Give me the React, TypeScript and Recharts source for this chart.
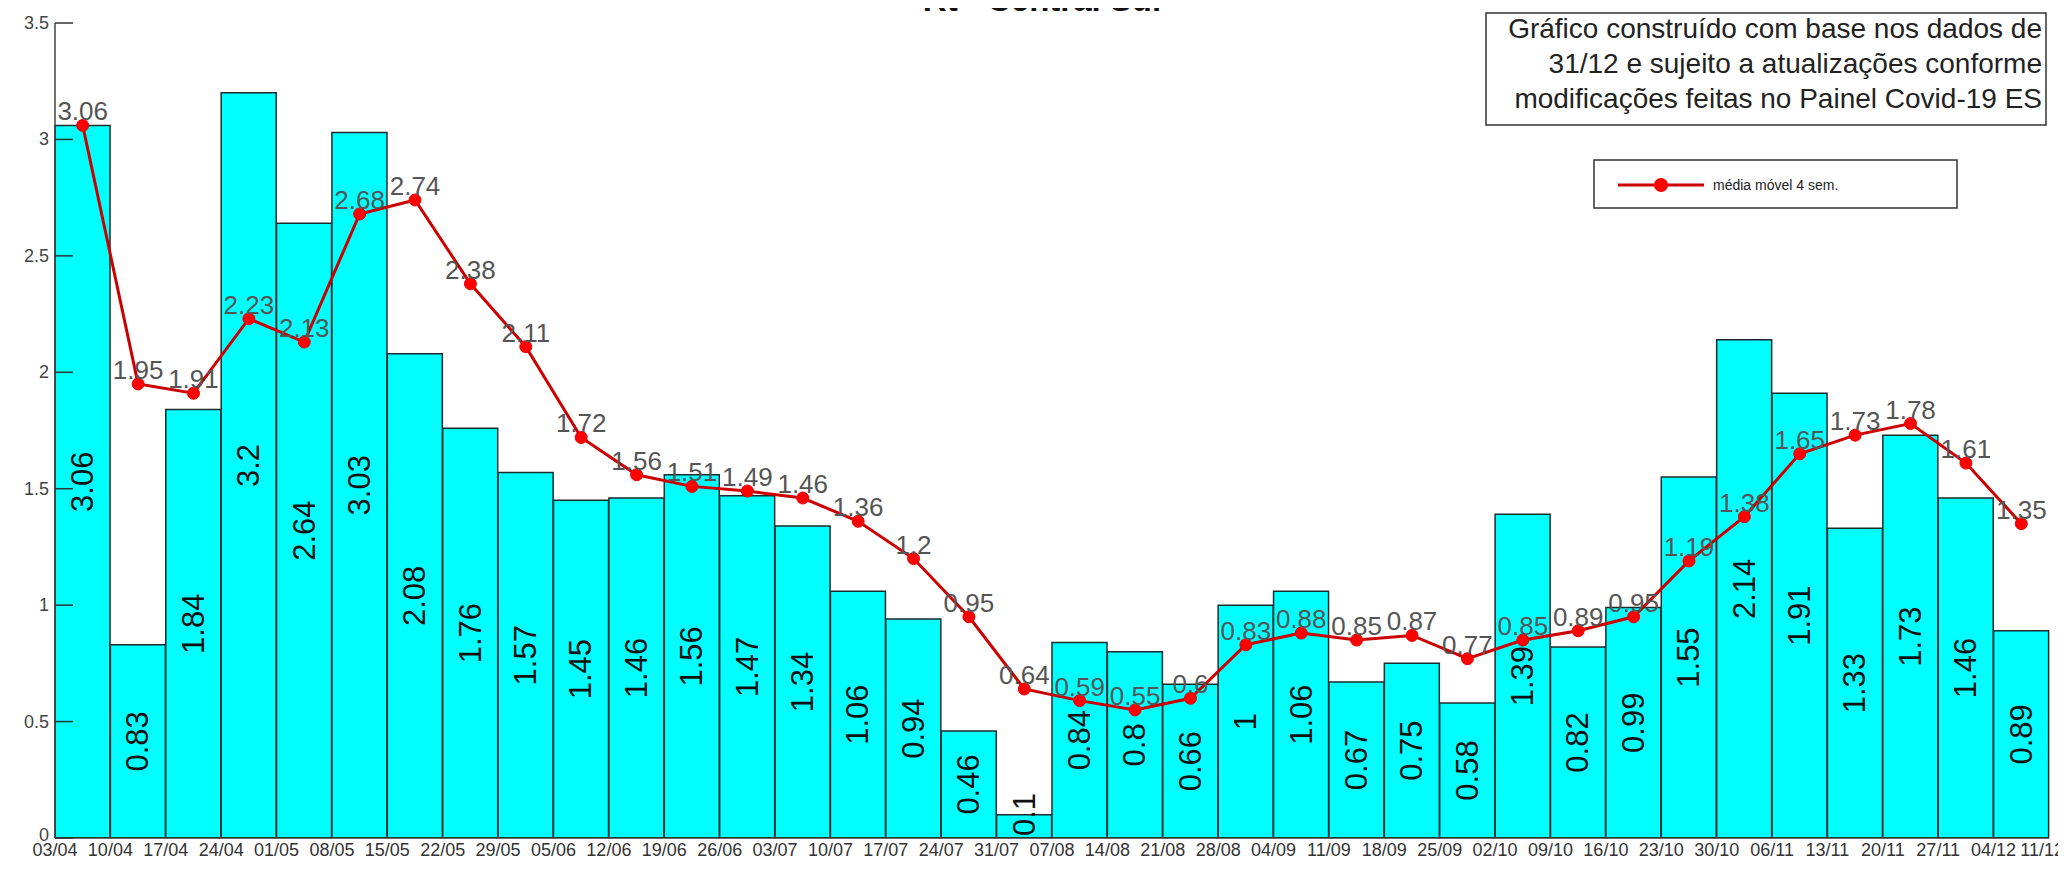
import React from "react";
import {
  ComposedChart,
  Bar,
  Line,
  XAxis,
  YAxis,
  LabelList,
} from "recharts";

const weeks = [
  "03/04", "10/04", "17/04", "24/04", "01/05", "08/05", "15/05", "22/05", "29/05",
  "05/06", "12/06", "19/06", "26/06", "03/07", "10/07", "17/07", "24/07", "31/07",
  "07/08", "14/08", "21/08", "28/08", "04/09", "11/09", "18/09", "25/09", "02/10",
  "09/10", "16/10", "23/10", "30/10", "06/11", "13/11", "20/11", "27/11", "04/12",
];

const tickLabels = [...weeks, "11/12"];

const rtWeekly = [
  3.06, 0.83, 1.84, 3.2, 2.64, 3.03, 2.08, 1.76, 1.57, 1.45, 1.46, 1.56, 1.47, 1.34,
  1.06, 0.94, 0.46, 0.1, 0.84, 0.8, 0.66, 1, 1.06, 0.67, 0.75, 0.58, 1.39, 0.82,
  0.99, 1.55, 2.14, 1.91, 1.33, 1.73, 1.46, 0.89,
];

const movingAvg = [
  3.06, 1.95, 1.91, 2.23, 2.13, 2.68, 2.74, 2.38, 2.11, 1.72, 1.56, 1.51, 1.49, 1.46,
  1.36, 1.2, 0.95, 0.64, 0.59, 0.55, 0.6, 0.83, 0.88, 0.85, 0.87, 0.77, 0.85, 0.89,
  0.95, 1.19, 1.38, 1.65, 1.73, 1.78, 1.61, 1.35,
];

const yTicks = [0, 0.5, 1, 1.5, 2, 2.5, 3, 3.5];

const rows = weeks.map((w, i) => ({
  week: w,
  idx: i,
  rt: rtWeekly[i],
  avg: movingAvg[i],
}));

const FONT = "'Liberation Sans', Arial, sans-serif";
const BAR_LABEL_SIZE = 31;

const BarLabel = (props: any) => {
  const vb = props.viewBox || props;
  const x = Number(vb.x ?? props.x);
  const y = Number(vb.y ?? props.y);
  const w = Number(vb.width ?? props.width);
  const h = Number(vb.height ?? props.height);
  const text = String(props.value);
  const halfLen =
    (text.split("").reduce((s, c) => s + (c === "." ? 0.278 : 0.556), 0) * BAR_LABEL_SIZE) / 2;
  const cx = x + w / 2;
  const base = y + h;
  const cy = Math.min(y + h / 2, base - halfLen - 2);
  return (
    <text
      x={cx}
      y={cy}
      transform={`rotate(-90 ${cx} ${cy})`}
      textAnchor="middle"
      dominantBaseline="central"
      fontSize={BAR_LABEL_SIZE}
      fill="#111"
      fontFamily={FONT}
    >
      {text}
    </text>
  );
};

const YTick = (props: any) => {
  const { x, y, payload } = props;
  return (
    <g>
      <line x1={x + 6} x2={x + 24} y1={y} y2={y} stroke="#333" strokeWidth={1.5} />
      <text
        x={x}
        y={y}
        dy={payload.value === 0 ? -3 : 0}
        textAnchor="end"
        dominantBaseline="central"
        fontSize={18}
        fill="#444"
        fontFamily={FONT}
      >
        {payload.value}
      </text>
    </g>
  );
};

const XTick = (props: any) => {
  const { x, y, payload } = props;
  const isLast = payload.value === tickLabels.length - 1;
  return (
    <text
      x={isLast ? x + 15 : x}
      y={y}
      dy={5}
      dominantBaseline="hanging"
      textAnchor={isLast ? "end" : "middle"}
      fontSize={18}
      fill="#333"
      fontFamily={FONT}
    >
      {tickLabels[payload.value]}
    </text>
  );
};

export default function App() {
  const W = 2058;
  const H = 861;
  return (
    <div style={{ marginTop: -8, position: "relative", width: W, height: H, fontFamily: FONT }}>
      <ComposedChart
        width={W}
        height={H}
        data={rows}
        margin={{ top: 23, right: 17, left: 7, bottom: 0 }}
        barCategoryGap={0}
        barGap={0}
      >
        <XAxis xAxisId="cat" dataKey="week" hide orientation="top" height={0} />
        <XAxis
          xAxisId="num"
          type="number"
          dataKey="idx"
          domain={[0, 36]}
          allowDataOverflow
          ticks={tickLabels.map((_, i) => i)}
          interval={0}
          height={23}
          tickSize={0}
          tickMargin={0}
          tickLine={false}
          axisLine={{ stroke: "#333", strokeWidth: 1.5 }}
          tick={<XTick />}
        />
        <YAxis
          domain={[0, 3.5]}
          ticks={yTicks}
          width={40}
          tickSize={6}
          tickMargin={0}
          tickLine={false}
          axisLine={{ stroke: "#444", strokeWidth: 1.5 }}
          tick={<YTick />}
          allowDataOverflow
        />
        <Bar
          xAxisId="cat"
          dataKey="rt"
          fill="#00FFFF"
          stroke="#1c2b2b"
          strokeWidth={1.5}
          isAnimationActive={false}
        >
          <LabelList dataKey="rt" content={<BarLabel />} />
        </Bar>
        <Line
          xAxisId="cat"
          dataKey="avg"
          stroke="#cc0000"
          strokeWidth={3}
          dot={{ r: 6, fill: "#ff0000", stroke: "#ee0000", strokeWidth: 1 }}
          isAnimationActive={false}
        >
          <LabelList
            dataKey="avg"
            position="top"
            offset={5}
            fill="#555"
            fontSize={26}
            fontFamily={FONT}
          />
        </Line>
      </ComposedChart>
      <svg
        width={W}
        height={H}
        style={{ position: "absolute", left: 0, top: 0, pointerEvents: "none" }}
      >
        <text
          x={1034}
          y={11}
          textAnchor="middle"
          fontWeight="bold"
          fontSize={33}
          fill="#111"
          fontFamily={FONT}
        >
          Rt - Central Sul
        </text>
        <rect x={1478} y={13} width={560} height={112} fill="#fff" stroke="#333" strokeWidth={1.5} />
        <text x={2034} y={38} textAnchor="end" fontSize={28} fill="#222" fontFamily={FONT}>
          Gráfico construído com base nos dados de
        </text>
        <text x={2034} y={73} textAnchor="end" fontSize={28} fill="#222" fontFamily={FONT}>
          31/12 e sujeito a atualizações conforme
        </text>
        <text x={2034} y={108} textAnchor="end" fontSize={28} fill="#222" fontFamily={FONT}>
          modificações feitas no Painel Covid-19 ES
        </text>
        <rect x={1586} y={160} width={363} height={48} fill="#fff" stroke="#333" strokeWidth={1.5} />
        <line x1={1610} x2={1696} y1={185} y2={185} stroke="#cc0000" strokeWidth={3} />
        <circle cx={1653} cy={185} r={7} fill="#ff0000" />
        <text x={1705} y={190} fontSize={14} fill="#222" fontFamily={FONT}>
          média móvel 4 sem.
        </text>
      </svg>
    </div>
  );
}
